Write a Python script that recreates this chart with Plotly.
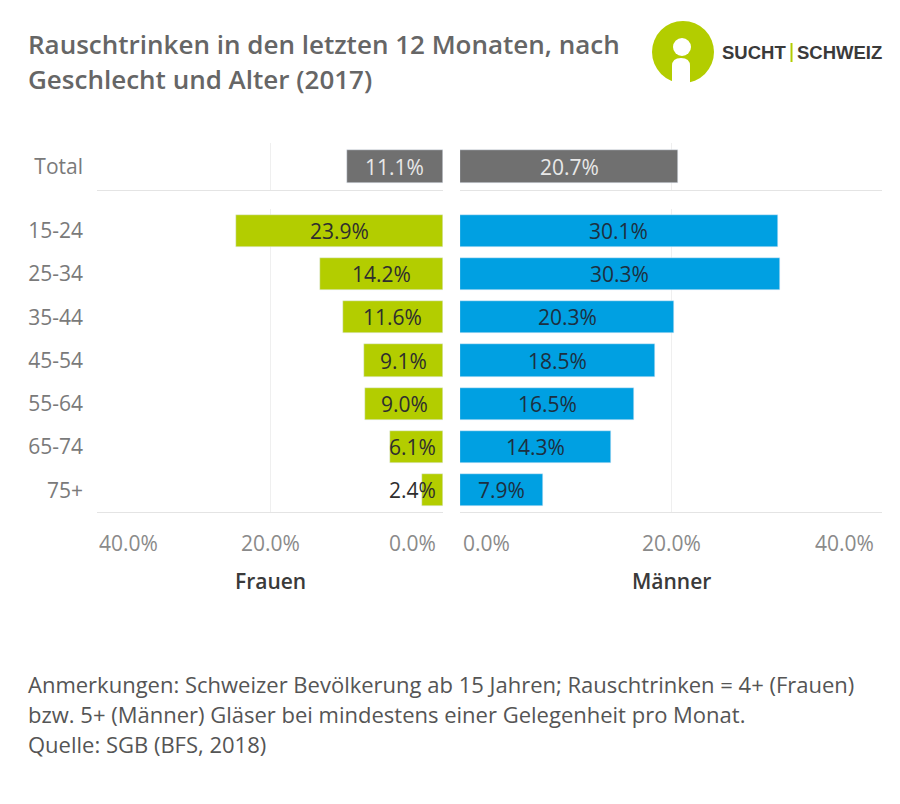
import plotly.graph_objects as go

# ---------------- data ----------------
age_groups = ["15-24", "25-34", "35-44", "45-54", "55-64", "65-74", "75+"]
frauen = [23.9, 14.2, 11.6, 9.1, 9.0, 6.1, 2.4]
maenner = [30.1, 30.3, 20.3, 18.5, 16.5, 14.3, 7.9]
total_cat = ["Total"]
total_frauen = [11.1]
total_maenner = [20.7]
tick_vals = [0, 20, 40]
tick_text = ["0.0%", "20.0%", "40.0%"]
side_titles = ["Frauen", "Männer"]
title_lines = ["Rauschtrinken in den letzten 12 Monaten, nach",
               "Geschlecht und Alter (2017)"]
note_lines = ["Anmerkungen: Schweizer Bevölkerung ab 15 Jahren; Rauschtrinken = 4+ (Frauen)",
              "bzw. 5+ (Männer) Gläser bei mindestens einer Gelegenheit pro Monat.",
              "Quelle: SGB (BFS, 2018)"]

# ---------------- style ----------------
W, H = 900, 804
GREEN = "#b3cd00"
BLUE = "#00a0e2"
GREY = "#707070"
FONT = "Open Sans"
GRID = "#efefef"
LINE = "#e4e4e4"


def fx(p):
    return p / W


def fy(p):
    return 1 - p / H


left_dom = [fx(97), fx(443)]
right_dom = [fx(460), fx(882)]
tot_dom = [fy(190), fy(143)]
age_dom = [fy(512), fy(209)]

fig = go.Figure()

# Total row
fig.add_trace(go.Bar(x=total_frauen, y=total_cat, orientation="h", marker_color=GREY,
                     width=0.7, xaxis="x", yaxis="y", hoverinfo="skip"))
fig.add_trace(go.Bar(x=total_maenner, y=total_cat, orientation="h", marker_color=GREY,
                     width=0.7, xaxis="x2", yaxis="y2", hoverinfo="skip"))
# Age groups
fig.add_trace(go.Bar(x=frauen, y=age_groups, orientation="h", marker_color=GREEN,
                     width=0.74, xaxis="x3", yaxis="y3", hoverinfo="skip"))
fig.add_trace(go.Bar(x=maenner, y=age_groups, orientation="h", marker_color=BLUE,
                     width=0.74, xaxis="x4", yaxis="y4", hoverinfo="skip"))

xcommon = dict(showgrid=True, gridcolor=GRID, gridwidth=1, tickvals=tick_vals,
               showticklabels=False, zeroline=False, showline=True, linecolor=LINE,
               linewidth=1, ticks="", fixedrange=True)
ycat_font = dict(family=FONT, size=21, color="#7a7a7a")

layout = dict(
    width=W, height=H, margin=dict(l=0, r=0, t=0, b=0),
    paper_bgcolor="white", plot_bgcolor="white", showlegend=False, bargap=0,
    xaxis=dict(domain=left_dom, range=[40, 0], anchor="y", **xcommon),
    xaxis2=dict(domain=right_dom, range=[0, 40], anchor="y2", **xcommon),
    xaxis3=dict(domain=left_dom, range=[40, 0], anchor="y3", **xcommon),
    xaxis4=dict(domain=right_dom, range=[0, 40], anchor="y4", **xcommon),
    yaxis=dict(domain=tot_dom, anchor="x", range=[-0.5, 0.5], type="category",
               tickfont=ycat_font, ticks="", showgrid=False, showline=False,
               ticklabelstandoff=13, fixedrange=True),
    yaxis2=dict(domain=tot_dom, anchor="x2", range=[-0.5, 0.5], type="category",
                showticklabels=False, ticks="", showgrid=False, showline=False),
    yaxis3=dict(domain=age_dom, anchor="x3", range=[len(age_groups) - 0.5, -0.5],
                type="category", categoryorder="array", categoryarray=age_groups,
                tickfont=ycat_font, ticks="", showgrid=False, showline=False,
                ticklabelstandoff=13, fixedrange=True),
    yaxis4=dict(domain=age_dom, anchor="x4", range=[len(age_groups) - 0.5, -0.5],
                type="category", categoryorder="array", categoryarray=age_groups,
                showticklabels=False, ticks="", showgrid=False, showline=False),
)
fig.update_layout(**layout)

ann = []
lab_font = dict(family=FONT, size=21)


def bar_labels(vals, cats, xref, yref, color, left_side):
    for v, c in zip(vals, cats):
        label = f"{v:.1f}%"
        if left_side and v < 7.5:
            ann.append(dict(x=0, y=c, xref=xref, yref=yref, text=label, showarrow=False,
                            xanchor="right", xshift=-5, font=dict(color=color, **lab_font)))
        else:
            ann.append(dict(x=v / 2, y=c, xref=xref, yref=yref, text=label, showarrow=False,
                            xanchor="center", font=dict(color=color, **lab_font)))


bar_labels(total_frauen, total_cat, "x", "y", "#e8e8e8", True)
bar_labels(total_maenner, total_cat, "x2", "y2", "#e8e8e8", False)
bar_labels(frauen, age_groups, "x3", "y3", "#2e2e2e", True)
bar_labels(maenner, age_groups, "x4", "y4", "#1d2f40", False)

# x tick labels (Tableau style alignment)
tick_font = dict(family=FONT, size=21, color="#8a8a8a")
for i, (tv, tt) in enumerate(zip(tick_vals, tick_text)):
    anchor_l = ["right", "center", "left"][i]
    anchor_r = ["left", "center", "right"][i]
    shift_l = {"right": -5, "center": 0, "left": 0}[anchor_l]
    shift_r = {"left": 1, "center": 0, "right": -6}[anchor_r]
    ann.append(dict(x=tv, y=fy(543), xref="x3", yref="paper", text=tt, showarrow=False,
                    xanchor=anchor_l, xshift=shift_l, yanchor="middle", font=tick_font))
    ann.append(dict(x=tv, y=fy(543), xref="x4", yref="paper", text=tt, showarrow=False,
                    xanchor=anchor_r, xshift=shift_r, yanchor="middle", font=tick_font))

# axis titles
for xr, t in zip(["x3 domain", "x4 domain"], side_titles):
    ann.append(dict(x=0.5, y=fy(581), xref=xr, yref="paper", text=t, showarrow=False,
                    xanchor="center", yanchor="middle",
                    font=dict(family=FONT, size=21, color="#3a3a3a", weight=600)))

# title
for i, t in enumerate(title_lines):
    ann.append(dict(x=fx(26), y=fy(44 + 35 * i), xref="paper", yref="paper", text=t,
                    showarrow=False, xanchor="left", yanchor="middle",
                    font=dict(family=FONT, size=26, color="#666666", weight=600)))

# notes
for i, t in enumerate(note_lines):
    ann.append(dict(x=fx(26), y=fy(684 + 30 * i), xref="paper", yref="paper", text=t,
                    showarrow=False, xanchor="left", yanchor="middle",
                    font=dict(family=FONT, size=22, color="#555555")))

# logo text
logo_font = dict(family="Liberation Sans", size=18.5, color="#3a3a3a", weight=700)
ann.append(dict(x=fx(788), y=fy(52), xref="paper", yref="paper", text="SUCHT",
                showarrow=False, xanchor="right", yanchor="middle", font=logo_font))
ann.append(dict(x=fx(795), y=fy(52), xref="paper", yref="paper", text="SCHWEIZ",
                showarrow=False, xanchor="left", yanchor="middle", font=logo_font))

shapes = []
# logo: green circle with white person
cx, cy, r = 683, 52, 31
shapes.append(dict(type="circle", xref="paper", yref="paper",
                   x0=fx(cx - r), x1=fx(cx + r), y0=fy(cy + r), y1=fy(cy - r),
                   fillcolor=GREEN, line=dict(width=0)))
shapes.append(dict(type="circle", xref="paper", yref="paper",
                   x0=fx(cx - 10), x1=fx(cx + 8), y0=fy(cy + 4), y1=fy(cy - 14),
                   fillcolor="white", line=dict(width=0)))
shapes.append(dict(type="path", xref="paper", yref="paper",
                   path=f"M {fx(672)} {fy(85)} L {fx(672)} {fy(66)} "
                        f"Q {fx(672)} {fy(58)} {fx(681)} {fy(58)} "
                        f"Q {fx(690)} {fy(58)} {fx(690)} {fy(66)} L {fx(690)} {fy(85)} Z",
                   fillcolor="white", line=dict(width=0)))
shapes.append(dict(type="line", xref="paper", yref="paper",
                   x0=fx(791.5), x1=fx(791.5), y0=fy(62), y1=fy(43),
                   line=dict(color=GREEN, width=2)))

fig.update_layout(annotations=ann, shapes=shapes)
fig.write_html("out.html", config={"displayModeBar": False},
               post_script="document.body.style.margin='0';document.body.style.overflow='hidden';")
